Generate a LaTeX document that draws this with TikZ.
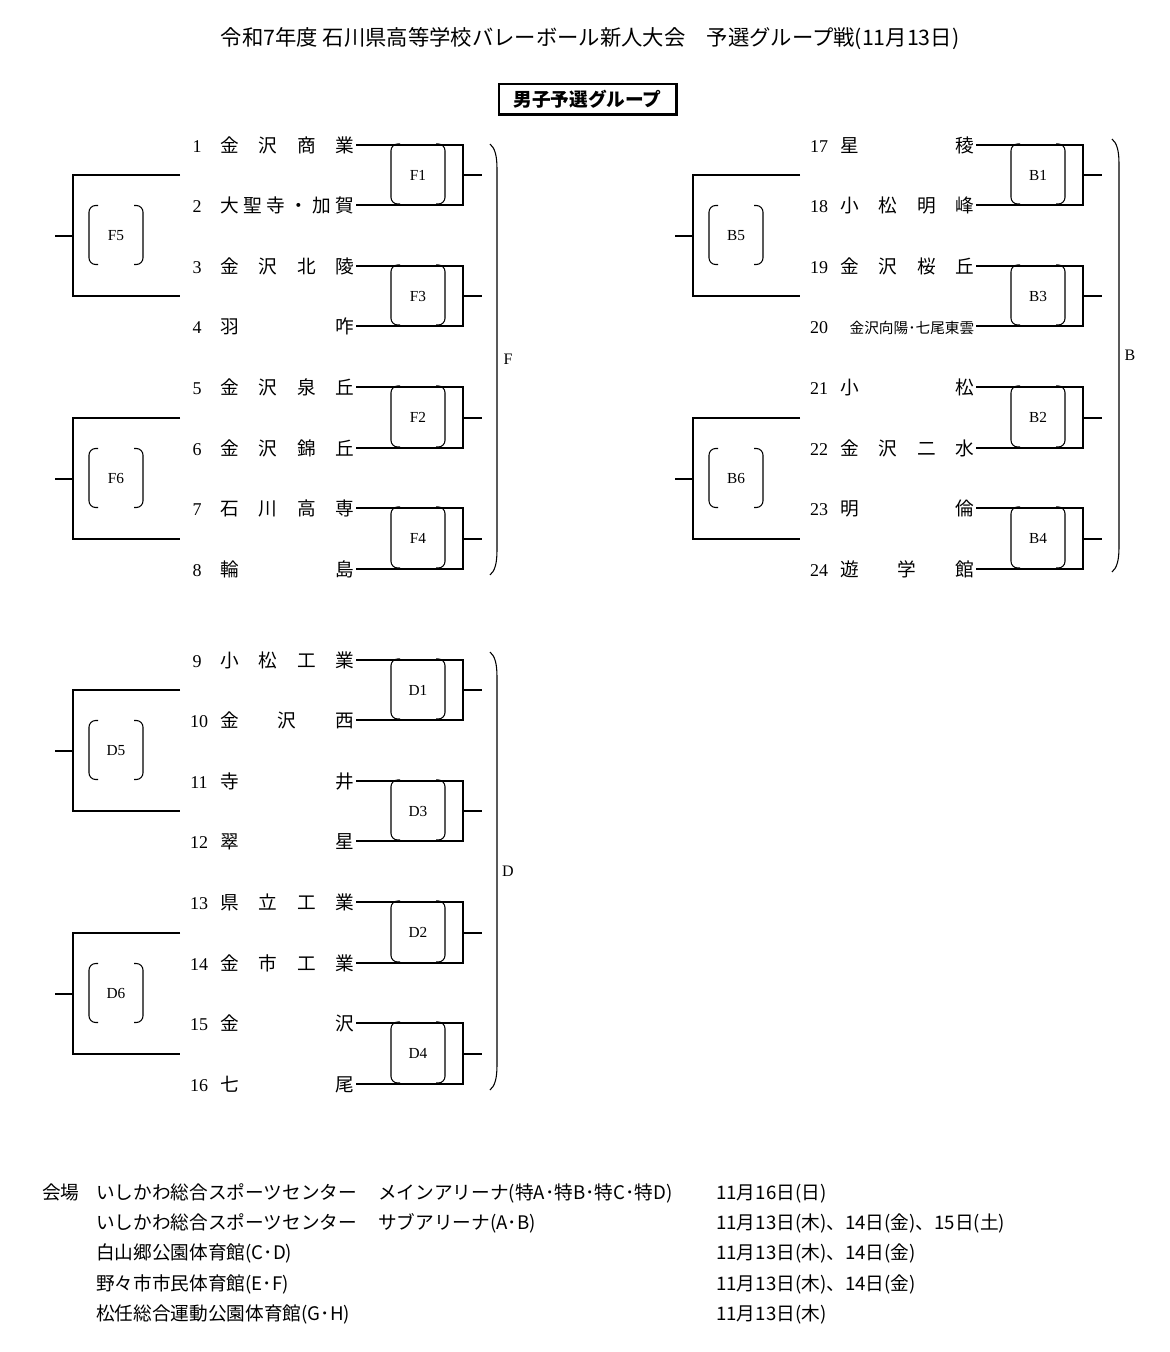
\documentclass[tikz,border=0pt]{standalone}
\usepackage{fontspec}
\setmainfont{Liberation Serif}
\newfontfamily\jp{Noto Sans CJK JP}
\tikzset{
  br/.style={line width=1.5pt},
  bx/.style={line width=0.8pt},
  numsty/.style={inner sep=0pt, anchor=base, font=\fontsize{13.5pt}{14pt}\selectfont},
  namesty/.style={inner sep=0pt, anchor=base west, font=\jp\fontsize{14pt}{14pt}\selectfont},
  lab/.style={inner sep=0pt, font=\fontsize{11.5pt}{12pt}\selectfont},
  glab/.style={inner sep=0pt, font=\fontsize{12pt}{12pt}\selectfont},
  foot/.style={inner sep=0pt, anchor=base west, font=\jp\fontsize{14pt}{14pt}\selectfont},
}
\newcommand\team[5]{%
  \ifnum#4<10 \def\nx{197}\else\def\nx{199}\fi
  \node[numsty] (n#1) at ({#2+\nx},{#3+7}) {#4};
  \node[namesty] (t#1) at ({#2+220},{#3+7}) {\makebox[100.5pt][l]{#5}};
  \coordinate (e#1) at ({#2+356},{#3});
}
\newcommand\boxbr[4]{%
  \draw[bx,rounded corners=5pt] ({#1+9},{#2}) -- ({#1},{#2}) -- ({#1},{#4}) -- ({#1+9},{#4});
  \draw[bx,rounded corners=5pt] ({#3-9},{#2}) -- ({#3},{#2}) -- ({#3},{#4}) -- ({#3-9},{#4});
}
\newcommand\match[6]{%
  \draw[br] (e#1) -- ({#3+463},{#4}) -- ({#3+463},{#5}) -- (e#2);
  \coordinate (w#6) at ({#3+463},{round((#4+#5)/2)});
  \draw[br] (w#6) -- ++(19,0) coordinate (s#6);
  \boxbr{#3+391}{#4-1}{#3+445}{#5-1}
  \node[lab] (L#6) at ({#3+418},{(#4+#5)/2}) {#6};
}
\newcommand\semi[4]{%
  \draw[br] ({#1+180},{#2}) -- ({#1+73},{#2}) -- ({#1+73},{#3}) -- ({#1+180},{#3});
  \coordinate (w#4) at ({#1+73},{round((#2+#3)/2)});
  \draw[br] (w#4) -- ++(-18,0) coordinate (s#4);
  \boxbr{#1+89}{(#2+#3)/2-30}{#1+143}{(#2+#3)/2+29}
  \node[lab] (L#4) at ({#1+116},{(#2+#3)/2}) {#4};
}
\newcommand\paren[4]{%
  \draw[bx] ({#1},{#2}) .. controls ({#1+5},{#2+4}) and ({#1+7},{#2+12}) .. ({#1+7},{#2+25})
    -- ({#1+7},{#3-25}) .. controls ({#1+7},{#3-12}) and ({#1+5},{#3-4}) .. ({#1},{#3});
  \node[glab] (G#4) at ({#1+18},{(#2+#3)/2}) {#4};
}
\begin{document}
\begin{tikzpicture}[x=0.75pt,y=-0.75pt]
\useasboundingbox (0,0) rectangle (1170,1352);
% title
\node[inner sep=0pt, font=\jp\fontsize{16pt}{16pt}\selectfont] (title) at (590,39) {令和7年度 石川県高等学校バレーボール新人大会　予選グループ戦(11月13日)};
\node[draw, line width=1.2pt, inner sep=0pt, minimum width=132.75pt, minimum height=22.5pt,
  font=\jp\bfseries\fontsize{14pt}{14pt}\selectfont] (hdr) at (587.5,99) {男子予選グループ};
\draw[line width=1.8pt] (hdr.north east) -- (hdr.south east) -- (hdr.south west);
% ---------- F group ----------
\team{1}{0}{145}{1}{金\hfill 沢\hfill 商\hfill 業}
\team{2}{0}{205}{2}{大\hfill 聖\hfill 寺\hfill ・\hfill 加\hfill 賀}
\team{3}{0}{266}{3}{金\hfill 沢\hfill 北\hfill 陵}
\team{4}{0}{326}{4}{羽\hfill 咋}
\team{5}{0}{387}{5}{金\hfill 沢\hfill 泉\hfill 丘}
\team{6}{0}{448}{6}{金\hfill 沢\hfill 錦\hfill 丘}
\team{7}{0}{508}{7}{石\hfill 川\hfill 高\hfill 専}
\team{8}{0}{569}{8}{輪\hfill 島}
\match{1}{2}{0}{145}{205}{F1}
\match{3}{4}{0}{266}{326}{F3}
\match{5}{6}{0}{387}{448}{F2}
\match{7}{8}{0}{508}{569}{F4}
\semi{0}{175}{296}{F5}
\semi{0}{418}{539}{F6}
\paren{490}{144}{575}{F}
% ---------- D group ----------
\team{9}{0}{660}{9}{小\hfill 松\hfill 工\hfill 業}
\team{10}{0}{720}{10}{金\hfill 沢\hfill 西}
\team{11}{0}{781}{11}{寺\hfill 井}
\team{12}{0}{841}{12}{翠\hfill 星}
\team{13}{0}{902}{13}{県\hfill 立\hfill 工\hfill 業}
\team{14}{0}{963}{14}{金\hfill 市\hfill 工\hfill 業}
\team{15}{0}{1023}{15}{金\hfill 沢}
\team{16}{0}{1084}{16}{七\hfill 尾}
\match{9}{10}{0}{660}{720}{D1}
\match{11}{12}{0}{781}{841}{D3}
\match{13}{14}{0}{902}{963}{D2}
\match{15}{16}{0}{1023}{1084}{D4}
\semi{0}{690}{811}{D5}
\semi{0}{933}{1054}{D6}
\paren{490}{652}{1090}{D}
% ---------- B group ----------
\team{17}{620}{145}{17}{星\hfill 稜}
\team{18}{620}{205}{18}{小\hfill 松\hfill 明\hfill 峰}
\team{19}{620}{266}{19}{金\hfill 沢\hfill 桜\hfill 丘}
\team{20}{620}{326}{20}{\hfill{\fontsize{11pt}{11pt}\selectfont 金沢向陽･七尾東雲}}
\team{21}{620}{387}{21}{小\hfill 松}
\team{22}{620}{448}{22}{金\hfill 沢\hfill 二\hfill 水}
\team{23}{620}{508}{23}{明\hfill 倫}
\team{24}{620}{569}{24}{遊\hfill 学\hfill 館}
\match{17}{18}{620}{145}{205}{B1}
\match{19}{20}{620}{266}{326}{B3}
\match{21}{22}{620}{387}{448}{B2}
\match{23}{24}{620}{508}{569}{B4}
\semi{620}{175}{296}{B5}
\semi{620}{418}{539}{B6}
\paren{1112}{139}{572}{B}
% ---------- footer ----------
\node[foot] (v0) at (42,1199) {会場};
\node[foot] (v1) at (96,1199) {いしかわ総合スポーツセンター};
\node[foot] (v1b) at (378,1199) {メインアリーナ(特A･特B･特C･特D)};
\node[foot] (d1) at (716,1199) {11月16日(日)};
\node[foot] (v2) at (96,1229) {いしかわ総合スポーツセンター};
\node[foot] (v2b) at (378,1229) {サブアリーナ(A･B)};
\node[foot] (d2) at (716,1229) {11月13日(木)、14日(金)、15日(土)};
\node[foot] (v3) at (96,1259) {白山郷公園体育館(C･D)};
\node[foot] (d3) at (716,1259) {11月13日(木)、14日(金)};
\node[foot] (v4) at (96,1290) {野々市市民体育館(E･F)};
\node[foot] (d4) at (716,1290) {11月13日(木)、14日(金)};
\node[foot] (v5) at (96,1320) {松任総合運動公園体育館(G･H)};
\node[foot] (d5) at (716,1320) {11月13日(木)};
\end{tikzpicture}
\end{document}
